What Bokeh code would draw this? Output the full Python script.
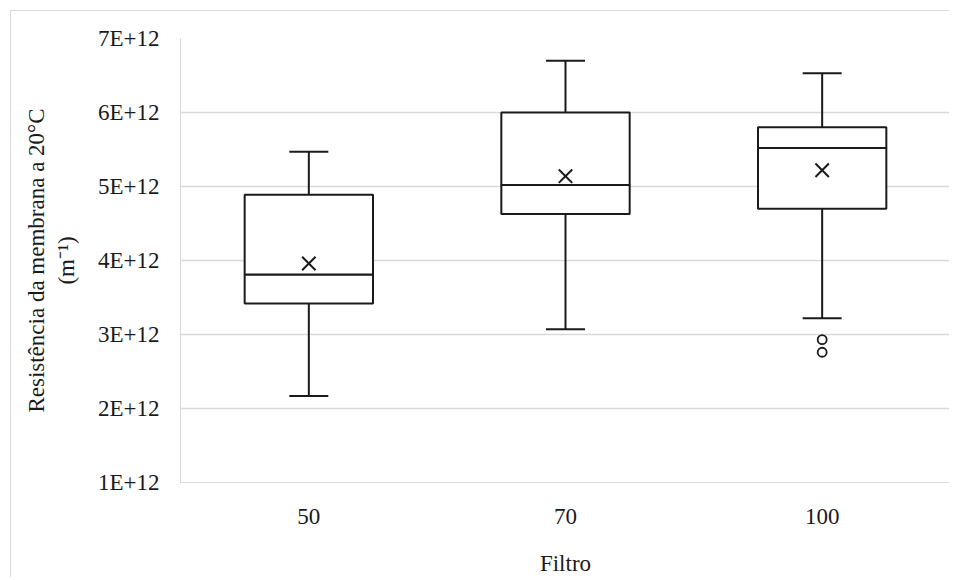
from bokeh.plotting import figure
from bokeh.models import ColumnDataSource, Whisker, TeeHead, CustomJSTickFormatter, FixedTicker, FactorRange, Range1d
from bokeh.embed import file_html
from bokeh.resources import INLINE

categories = ["50", "70", "100"]
whisker_low = [2.17e12, 3.07e12, 3.22e12]
q1 = [3.42e12, 4.63e12, 4.70e12]
median = [3.81e12, 5.02e12, 5.52e12]
q3 = [4.89e12, 6.00e12, 5.80e12]
whisker_high = [5.47e12, 6.70e12, 6.53e12]
mean = [3.96e12, 5.14e12, 5.22e12]
outlier_cat = ["100", "100"]
outlier_val = [2.93e12, 2.76e12]
y_ticks = [1e12, 2e12, 3e12, 4e12, 5e12, 6e12, 7e12]

FONT = "Liberation Serif"
INK = "#1a1a1a"
GRID = "#d9d9d9"

p = figure(width=939, height=567, output_backend="svg", toolbar_location=None,
           x_range=FactorRange(*categories), y_range=Range1d(1e12, 7e12),
           min_border_left=169, min_border_top=27, min_border_bottom=90, min_border_right=0)
p.outline_line_color = None
p.styles = {"border-left": "1px solid #d9d9d9", "border-top": "1px solid #d9d9d9",
            "margin-left": "10px", "margin-top": "10px"}

src = ColumnDataSource(dict(x=categories, lo=whisker_low, q1=q1, med=median,
                            q3=q3, hi=whisker_high, mean=mean))

w = Whisker(base="x", lower="lo", upper="hi", source=src, level="underlay",
            line_color=INK, line_width=2,
            lower_head=TeeHead(size=39, line_color=INK, line_width=2),
            upper_head=TeeHead(size=39, line_color=INK, line_width=2))
p.add_layout(w)

p.vbar(x="x", bottom="q1", top="med", width=0.5, source=src,
       fill_color="white", line_color=INK, line_width=2)
p.vbar(x="x", bottom="med", top="q3", width=0.5, source=src,
       fill_color="white", line_color=INK, line_width=2)
p.scatter(x="x", y="mean", source=src, marker="x", size=19,
          line_color=INK, line_width=2)
p.scatter(x=outlier_cat, y=outlier_val, marker="circle", size=9,
          fill_color="white", line_color=INK, line_width=1.8)

p.yaxis.ticker = FixedTicker(ticks=y_ticks)
p.yaxis.formatter = CustomJSTickFormatter(code="return Math.round(tick/1e12) + 'E+12';")
for ax in (p.xaxis, p.yaxis):
    ax.major_tick_line_color = None
    ax.minor_tick_line_color = None
    ax.axis_line_color = GRID
    ax.major_label_text_font = FONT
    ax.major_label_text_font_size = "23px"
    ax.major_label_text_color = INK
    ax.axis_label_text_font = FONT
    ax.axis_label_text_font_size = "23px"
    ax.axis_label_text_color = INK
    ax.axis_label_text_font_style = "normal"

p.yaxis.major_label_standoff = 15
p.xaxis.major_label_standoff = 20
p.xaxis.axis_label = "Filtro"
p.xaxis.axis_label_standoff = 24
p.yaxis.axis_label = "Resistência da membrana a 20°C\n(m⁻¹)"
p.yaxis.axis_label_standoff = 16

p.xgrid.grid_line_color = None
p.ygrid.grid_line_color = GRID
p.ygrid.grid_line_width = 1.5

open("out.html", "w").write(file_html(p, INLINE))
